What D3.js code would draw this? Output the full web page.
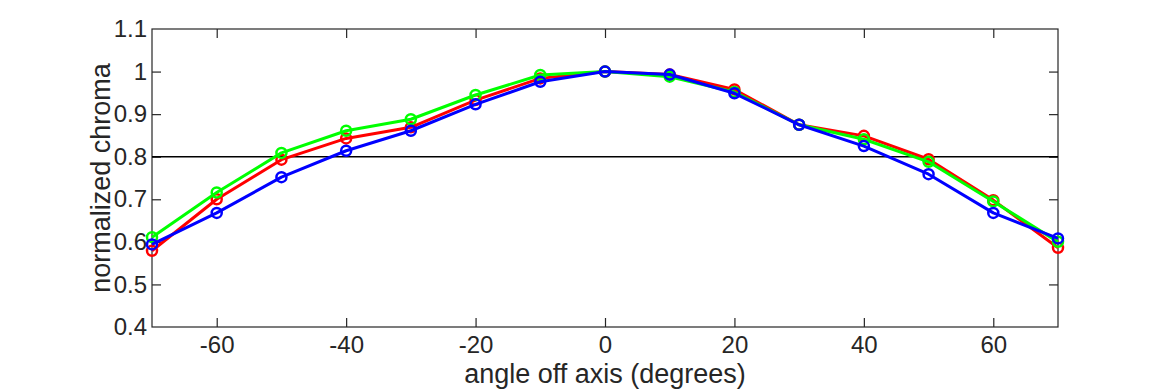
<!DOCTYPE html>
<html>
<head>
<meta charset="utf-8">
<script src="https://cdn.jsdelivr.net/npm/d3@7"></script>
<style>
  html, body { margin: 0; padding: 0; background: #fff; }
  svg { display: block; }
  text { font-family: "Liberation Sans", Arial, Helvetica, sans-serif; fill: #262626; }
</style>
</head>
<body>
<svg id="chart" width="1170" height="390"></svg>
<script>
const angles = [-70, -60, -50, -40, -30, -20, -10, 0, 10, 20, 30, 40, 50, 60, 70];
const redValues   = [0.579, 0.700, 0.793, 0.843, 0.869, 0.933, 0.984, 1.000, 0.993, 0.958, 0.875, 0.849, 0.794, 0.698, 0.586];
const greenValues = [0.611, 0.716, 0.809, 0.861, 0.888, 0.945, 0.992, 1.000, 0.988, 0.952, 0.875, 0.841, 0.788, 0.695, 0.600];
const blueValues  = [0.594, 0.668, 0.752, 0.814, 0.861, 0.923, 0.976, 1.000, 0.993, 0.949, 0.875, 0.825, 0.759, 0.668, 0.608];
const xTicks = [-60, -40, -20, 0, 20, 40, 60];
const yTicks = [0.4, 0.5, 0.6, 0.7, 0.8, 0.9, 1.0, 1.1];
const referenceLevel = 0.8;
const xLabel = "angle off axis (degrees)";
const yLabel = "normalized chroma";

const series = [
  { name: "red", color: "#ff0000", values: redValues },
  { name: "green", color: "#00ff00", values: greenValues },
  { name: "blue", color: "#0000ff", values: blueValues }
];

const mLeft = 152, mRight = 1058, mTop = 29, mBottom = 327;
const svg = d3.select("#chart");
const x = d3.scaleLinear().domain([-70, 70]).range([mLeft, mRight]);
const y = d3.scaleLinear().domain([0.4, 1.1]).range([mBottom, mTop]);
const axisColor = "#262626";
const tickLen = 9;

svg.append("rect")
  .attr("x", mLeft).attr("y", mTop)
  .attr("width", mRight - mLeft).attr("height", mBottom - mTop)
  .attr("fill", "none").attr("stroke", axisColor).attr("stroke-width", 1.2);

const fmtY = d => (d === 1 ? "1" : d3.format(".1f")(d));
const fmtX = d => String(d);

const xAxis = svg.append("g").attr("transform", `translate(0,${mBottom})`)
  .call(d3.axisBottom(x).tickValues(xTicks).tickSizeInner(-tickLen).tickSizeOuter(0).tickPadding(9).tickFormat(fmtX));
const xAxisTop = svg.append("g").attr("transform", `translate(0,${mTop})`)
  .call(d3.axisTop(x).tickValues(xTicks).tickSizeInner(-tickLen).tickSizeOuter(0).tickFormat(""));
const yAxis = svg.append("g").attr("transform", `translate(${mLeft},0)`)
  .call(d3.axisLeft(y).tickValues(yTicks).tickSizeInner(-tickLen).tickSizeOuter(0).tickPadding(5).tickFormat(fmtY));
const yAxisRight = svg.append("g").attr("transform", `translate(${mRight},0)`)
  .call(d3.axisRight(y).tickValues(yTicks).tickSizeInner(-tickLen).tickSizeOuter(0).tickFormat(""));

[xAxis, xAxisTop, yAxis, yAxisRight].forEach(g => {
  g.select(".domain").remove();
  g.selectAll(".tick line").attr("stroke", axisColor).attr("stroke-width", 1.2);
  g.selectAll(".tick text").attr("fill", axisColor).style("font-size", "24px")
    .style("font-family", '"Liberation Sans", Arial, Helvetica, sans-serif');
});
yAxis.selectAll(".tick").filter(d => d === 0.4 || d === 1.1).select("line").remove();
yAxisRight.selectAll(".tick").filter(d => d === 0.4 || d === 1.1).select("line").remove();

svg.append("line")
  .attr("x1", mLeft).attr("x2", mRight)
  .attr("y1", y(referenceLevel)).attr("y2", y(referenceLevel))
  .attr("stroke", "#000").attr("stroke-width", 1.5);

const line = d3.line().x((d, i) => x(angles[i])).y(d => y(d));
series.forEach(s => {
  const g = svg.append("g");
  g.append("path").datum(s.values)
    .attr("d", line)
    .attr("fill", "none").attr("stroke", s.color).attr("stroke-width", 3)
    .attr("stroke-linejoin", "round");
  g.selectAll("circle").data(s.values).join("circle")
    .attr("cx", (d, i) => x(angles[i])).attr("cy", d => y(d))
    .attr("r", 5).attr("fill", "none").attr("stroke", s.color).attr("stroke-width", 2.5);
});

svg.append("text")
  .attr("x", (mLeft + mRight) / 2).attr("y", 383)
  .attr("text-anchor", "middle").style("font-size", "27px")
  .text(xLabel);
svg.append("text")
  .attr("transform", `translate(110,${(mTop + mBottom) / 2}) rotate(-90)`)
  .attr("text-anchor", "middle").style("font-size", "27px")
  .text(yLabel);
</script>
</body>
</html>
